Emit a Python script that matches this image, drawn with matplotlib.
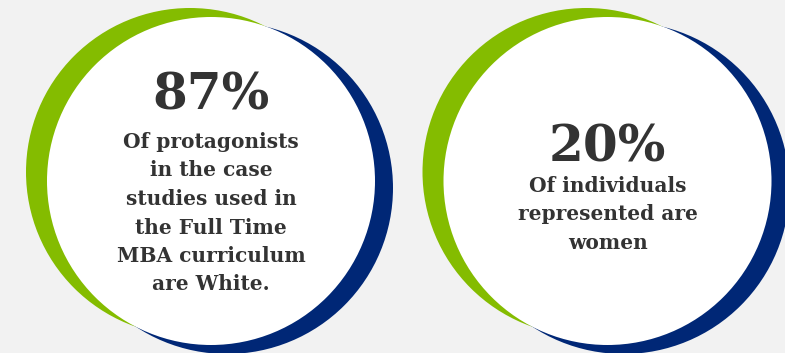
import matplotlib.pyplot as plt
from matplotlib.patches import Circle

# stat figures and their captions
values = ["87%", "20%"]
captions = [
    ["Of protagonists", "in the case", "studies used in",
     "the Full Time", "MBA curriculum", "are White."],
    ["Of individuals", "represented are", "women"],
]

bg = "#f2f2f2"
green = "#84bc00"
navy = "#002776"
txt = "#333333"

fig = plt.figure(figsize=(7.85, 3.53), dpi=100, facecolor=bg)
ax = fig.add_axes([0, 0, 1, 1])
ax.set_xlim(0, 785)
ax.set_ylim(353, 0)
ax.set_aspect("equal")
ax.axis("off")

centers_x = [211, 607.5]
cy = 181
r = 164
value_base = [110, 162]
cap_base = [148, 192]
step = 28.5

for i, val in enumerate(values):
    cx = centers_x[i]
    ax.add_patch(Circle((cx - 21, cy - 9), r, color=green, lw=0, zorder=1))
    ax.add_patch(Circle((cx + 16, cy + 7), 166, color=navy, lw=0, zorder=1))
    ax.add_patch(Circle((cx, cy), r, color="white", lw=0, zorder=2))

    ax.text(cx, value_base[i], val, ha="center", va="baseline",
            fontsize=36, fontweight="bold", family="DejaVu Serif",
            color=txt, zorder=3)
    for j, line in enumerate(captions[i]):
        ax.text(cx, cap_base[i] + j * step, line, ha="center", va="baseline",
                fontsize=14.5, fontweight="bold", family="DejaVu Serif",
                color=txt, zorder=3)

fig.savefig("out.png", dpi=100, facecolor=bg)
